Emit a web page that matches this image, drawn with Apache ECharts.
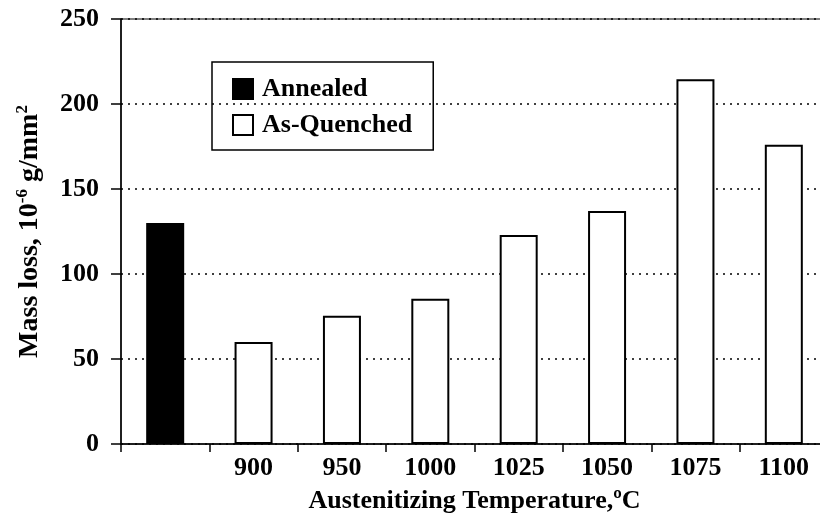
<!DOCTYPE html>
<html>
<head>
<meta charset="utf-8">
<script src="https://cdn.jsdelivr.net/npm/echarts@6/dist/echarts.min.js"></script>
<style>
  html, body { margin: 0; padding: 0; background: #fff; }
  #chart { width: 820px; height: 518px; }
</style>
</head>
<body>
<div id="chart"></div>
<script>
// Austenitizing temperature categories (first slot is the annealed reference)
const categories = ['', '900', '950', '1000', '1025', '1050', '1075', '1100'];
// Mass loss, 10^-6 g/mm^2
const annealed = [130, '-', '-', '-', '-', '-', '-', '-'];
const asQuenched = ['-', 60, 75.5, 85.5, 123, 137, 214.5, 176];
const yTicks = { min: 0, max: 250, interval: 50 };

const serif = '"Liberation Serif", "DejaVu Serif", serif';

const chart = echarts.init(document.getElementById('chart'), null, { renderer: 'canvas' });

chart.setOption({
  animation: false,
  backgroundColor: '#ffffff',
  grid: {
    left: 121, top: 19, width: 707, height: 425,
    outerBoundsMode: 'none',
    containLabel: false,
    show: true, borderColor: '#000', borderWidth: 1, backgroundColor: 'transparent'
  },
  legend: {
    orient: 'vertical',
    left: 212, top: 62,
    padding: [14, 21, 12, 20],
    itemWidth: 20, itemHeight: 20, itemGap: 10,
    borderColor: '#000', borderWidth: 1.5,
    icon: 'rect',
    textStyle: { fontFamily: serif, fontWeight: 'bold', fontSize: 26, color: '#000', padding: [0, 0, 0, 4] },
    data: ['Annealed', 'As-Quenched']
  },
  xAxis: {
    type: 'category',
    data: categories,
    boundaryGap: true,
    name: 'Austenitizing Temperature,ºC',
    nameLocation: 'middle',
    nameGap: 44,
    nameTextStyle: { fontFamily: serif, fontWeight: 'bold', fontSize: 26, color: '#000' },
    axisLine: { lineStyle: { color: '#000', width: 1.5 } },
    axisTick: { show: true, alignWithLabel: false, length: 8, lineStyle: { color: '#000', width: 1.5 } },
    axisLabel: { fontFamily: serif, fontWeight: 'bold', fontSize: 26, color: '#000', margin: 11 },
    splitLine: { show: false }
  },
  yAxis: {
    type: 'value',
    min: yTicks.min, max: yTicks.max, interval: yTicks.interval,
    name: 'Mass loss, 10{sup|-6} g/mm{sup|2}',
    nameLocation: 'middle',
    nameRotate: 90,
    nameGap: 76,
    nameTextStyle: {
      fontFamily: serif, fontWeight: 'bold', fontSize: 28, color: '#000',
      rich: {
        sup: { fontFamily: serif, fontWeight: 'bold', fontSize: 17, color: '#000', padding: [0, 0, 14, 0] }
      }
    },
    axisLine: { show: true, lineStyle: { color: '#000', width: 1.5 } },
    axisTick: { show: true, length: 10, lineStyle: { color: '#000', width: 1.5 } },
    axisLabel: { fontFamily: serif, fontWeight: 'bold', fontSize: 26, color: '#000', margin: 22 },
    splitLine: { show: true, lineStyle: { color: '#000', width: 1.5, type: [2, 5] } }
  },
  series: [
    {
      name: 'Annealed',
      type: 'bar',
      data: annealed,
      barWidth: 38,
      barGap: '-100%',
      itemStyle: { color: '#000', borderColor: '#000', borderWidth: 1.5 }
    },
    {
      name: 'As-Quenched',
      type: 'bar',
      data: asQuenched,
      barWidth: 38,
      barGap: '-100%',
      itemStyle: { color: '#fff', borderColor: '#000', borderWidth: 2 }
    }
  ]
});
</script>
</body>
</html>
